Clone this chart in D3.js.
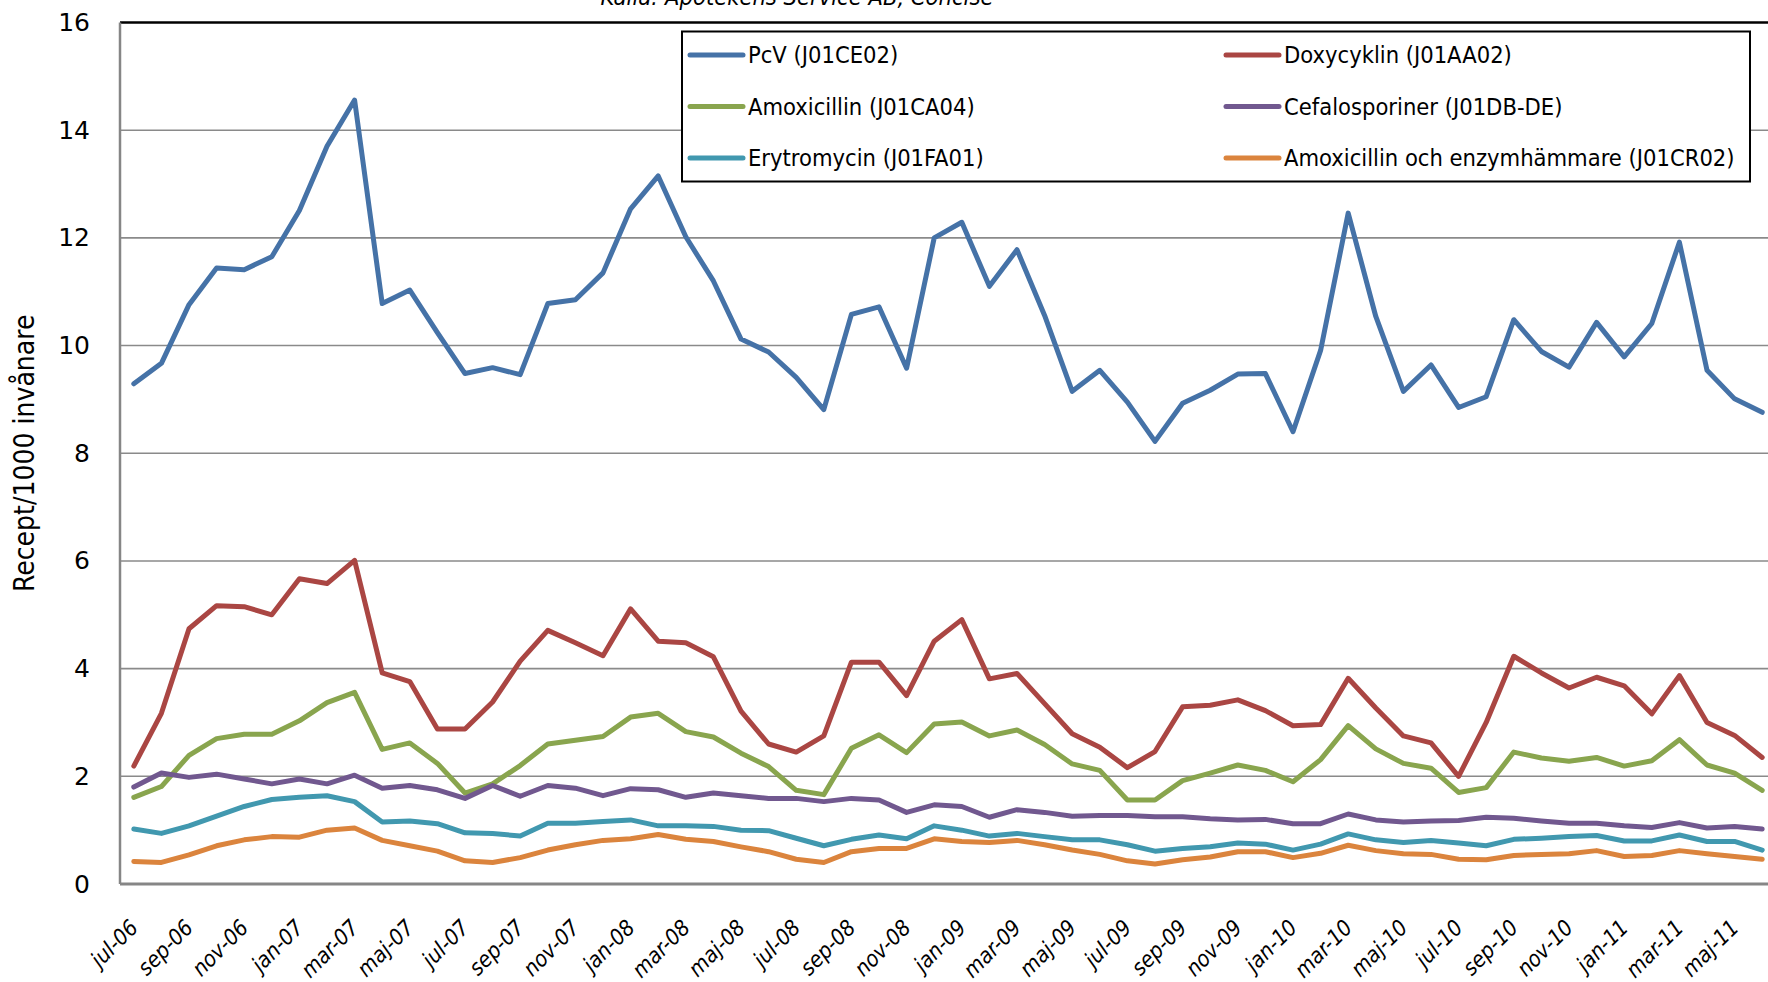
<!DOCTYPE html>
<html>
<head>
<meta charset="utf-8">
<script src="https://cdnjs.cloudflare.com/ajax/libs/d3/7.8.5/d3.min.js"></script>
<style>
  body { margin: 0; background: #fff; overflow: hidden; }
  svg { display: block; }
  .cond { font-family: "Liberation Sans Narrow", "DejaVu Sans Condensed", "Liberation Sans", sans-serif; }
</style>
</head>
<body>
<div id="chart"></div>
<script>
// months on the category axis (every other one is labelled)
var months = ["jul-06","aug-06","sep-06","okt-06","nov-06","dec-06",
  "jan-07","feb-07","mar-07","apr-07","maj-07","jun-07","jul-07","aug-07","sep-07","okt-07","nov-07","dec-07",
  "jan-08","feb-08","mar-08","apr-08","maj-08","jun-08","jul-08","aug-08","sep-08","okt-08","nov-08","dec-08",
  "jan-09","feb-09","mar-09","apr-09","maj-09","jun-09","jul-09","aug-09","sep-09","okt-09","nov-09","dec-09",
  "jan-10","feb-10","mar-10","apr-10","maj-10","jun-10","jul-10","aug-10","sep-10","okt-10","nov-10","dec-10",
  "jan-11","feb-11","mar-11","apr-11","maj-11","jun-11"];

var pcv = [9.29, 9.67, 10.76, 11.44, 11.41, 11.65, 12.51, 13.70, 14.56, 10.78,
  11.03, 10.24, 9.48, 9.59, 9.46, 10.78, 10.85, 11.35, 12.54, 13.15,
  12.02, 11.20, 10.12, 9.88, 9.41, 8.81, 10.58, 10.72, 9.58, 12.00,
  12.29, 11.10, 11.78, 10.56, 9.15, 9.54, 8.95, 8.22, 8.93, 9.17,
  9.47, 9.48, 8.40, 9.91, 12.46, 10.54, 9.15, 9.64, 8.85, 9.05,
  10.48, 9.89, 9.60, 10.43, 9.79, 10.41, 11.92, 9.54, 9.01, 8.76];

var doxy = [2.19, 3.17, 4.74, 5.17, 5.15, 5.00, 5.67, 5.58, 6.01, 3.92, 3.76, 2.88, 2.88, 3.38, 4.14,
  4.71, 4.48, 4.24, 5.11, 4.51, 4.48, 4.22, 3.21, 2.60, 2.45, 2.75, 4.12, 4.12, 3.50, 4.51,
  4.91, 3.81, 3.91, 3.35, 2.79, 2.54, 2.16, 2.46, 3.29, 3.32, 3.42, 3.22, 2.94, 2.96, 3.82,
  3.27, 2.75, 2.62, 2.00, 3.00, 4.23, 3.92, 3.64, 3.84, 3.68, 3.16, 3.87, 3.00, 2.76, 2.35];

var amox = [1.61, 1.81, 2.39, 2.70, 2.78, 2.78, 3.03, 3.37, 3.56, 2.50, 2.62, 2.24, 1.69, 1.86, 2.20,
  2.60, 2.67, 2.74, 3.10, 3.17, 2.83, 2.73, 2.43, 2.18, 1.74, 1.66, 2.52, 2.77, 2.44, 2.97,
  3.01, 2.75, 2.86, 2.59, 2.23, 2.11, 1.56, 1.56, 1.92, 2.06, 2.21, 2.11, 1.90, 2.31, 2.94,
  2.51, 2.24, 2.15, 1.70, 1.79, 2.45, 2.34, 2.28, 2.35, 2.19, 2.29, 2.68, 2.21, 2.06, 1.74];

var cefa = [1.80, 2.06, 1.98, 2.04, 1.95, 1.86, 1.95, 1.86, 2.02, 1.78, 1.83, 1.75, 1.59, 1.83, 1.63,
  1.83, 1.78, 1.64, 1.77, 1.75, 1.61, 1.69, 1.64, 1.59, 1.59, 1.53, 1.59, 1.56, 1.33, 1.47,
  1.44, 1.24, 1.38, 1.33, 1.26, 1.27, 1.27, 1.25, 1.25, 1.21, 1.19, 1.20, 1.12, 1.12, 1.30,
  1.19, 1.15, 1.17, 1.18, 1.24, 1.22, 1.17, 1.13, 1.13, 1.08, 1.05, 1.14, 1.04, 1.07, 1.02];

var eryt = [1.02, 0.94, 1.08, 1.26, 1.44, 1.57, 1.61, 1.64, 1.53, 1.15, 1.17, 1.12, 0.95, 0.94, 0.89,
  1.13, 1.13, 1.16, 1.19, 1.08, 1.08, 1.07, 1.00, 0.99, 0.85, 0.71, 0.83, 0.91, 0.84, 1.08,
  1.00, 0.89, 0.94, 0.88, 0.82, 0.82, 0.73, 0.61, 0.66, 0.69, 0.76, 0.74, 0.63, 0.74, 0.93,
  0.82, 0.77, 0.81, 0.76, 0.71, 0.83, 0.85, 0.88, 0.90, 0.80, 0.80, 0.91, 0.79, 0.79, 0.63];

var amoxEnz = [0.42, 0.40, 0.54, 0.71, 0.82, 0.88, 0.87, 1.00, 1.04, 0.81, 0.71, 0.61, 0.43, 0.40, 0.49,
  0.63, 0.73, 0.81, 0.84, 0.92, 0.83, 0.79, 0.69, 0.60, 0.46, 0.40, 0.60, 0.66, 0.66, 0.84,
  0.79, 0.77, 0.81, 0.73, 0.63, 0.55, 0.43, 0.37, 0.45, 0.50, 0.60, 0.60, 0.49, 0.57, 0.72,
  0.62, 0.56, 0.55, 0.46, 0.45, 0.53, 0.55, 0.56, 0.62, 0.51, 0.53, 0.62, 0.56, 0.51, 0.46];

var seriesNames = ["PcV (J01CE02)", "Doxycyklin (J01AA02)", "Amoxicillin (J01CA04)",
  "Cefalosporiner (J01DB-DE)", "Erytromycin (J01FA01)", "Amoxicillin och enzymhämmare (J01CR02)"];
var yTicks = [0, 2, 4, 6, 8, 10, 12, 14, 16];

var colors = ["#4572A7", "#AA4643", "#89A54E", "#71588F", "#4198AF", "#DB843D"];
var series = [pcv, doxy, amox, cefa, eryt, amoxEnz].map(function(v, i) {
  return { name: seriesNames[i], color: colors[i], values: v };
});

// Set Margins (plot runs past the right edge of the picture, like the original crop)
var W = 1768, H = 982;
var plotLeft = 120, plotTop = 22.5, plotBottom = 884;
var plotRight = plotLeft + 27.6 * months.length;

var svg = d3.select("#chart").append("svg")
    .attr("width", W)
    .attr("height", H);

var x = d3.scalePoint().domain(months).range([plotLeft, plotRight]).padding(0.5);
var y = d3.scaleLinear().domain([0, 16]).range([plotBottom, plotTop]);

// gridlines
svg.append("g")
  .selectAll("line")
  .data(yTicks.filter(function(d) { return d > 0 && d < 16; }))
  .enter().append("line")
    .attr("x1", plotLeft).attr("x2", plotRight)
    .attr("y1", function(d) { return y(d); })
    .attr("y2", function(d) { return y(d); })
    .attr("stroke", "#8a8a8a")
    .attr("stroke-width", 1.6);

// frame: black top, grey left and bottom
svg.append("line")
  .attr("x1", plotLeft).attr("x2", plotRight).attr("y1", y(16)).attr("y2", y(16))
  .attr("stroke", "#000").attr("stroke-width", 2.5);
svg.append("line")
  .attr("x1", plotLeft).attr("x2", plotLeft).attr("y1", y(16)).attr("y2", y(0))
  .attr("stroke", "#868686").attr("stroke-width", 2.5);

// y axis labels
var yAxis = svg.append("g")
  .attr("transform", "translate(" + plotLeft + ",0)")
  .call(d3.axisLeft(y).tickValues(yTicks).tickSize(0).tickPadding(30).tickFormat(d3.format("d")));
yAxis.select(".domain").remove();
yAxis.selectAll("text")
  .attr("font-family", "'DejaVu Sans', sans-serif")
  .attr("font-size", 25)
  .attr("fill", "#000");

svg.append("text")
  .attr("class", "cond")
  .attr("transform", "translate(34," + ((plotTop + plotBottom) / 2) + ") rotate(-90)")
  .attr("text-anchor", "middle")
  .attr("font-size", 28)
  .text("Recept/1000 invånare");

// x axis labels, every other month
var xAxis = svg.append("g")
  .attr("transform", "translate(0," + plotBottom + ")")
  .call(d3.axisBottom(x).tickValues(months.filter(function(d, i) { return i % 2 === 0; })).tickSize(0));
xAxis.select(".domain")
  .attr("d", "M" + plotLeft + ",0H" + plotRight)
  .attr("stroke", "#868686").attr("stroke-width", 3);
xAxis.selectAll("text")
  .attr("class", "cond")
  .attr("font-family", null)
  .attr("font-size", 22)
  .attr("font-style", "italic")
  .attr("fill", "#000")
  .attr("text-anchor", "end")
  .attr("dy", null)
  .attr("y", 0)
  .attr("transform", "translate(5,45) rotate(-45)");

// lines
var line = d3.line()
  .x(function(d, i) { return x(months[i]); })
  .y(function(d) { return y(d); });

svg.append("g")
  .selectAll("path")
  .data(series)
  .enter().append("path")
    .attr("d", function(d) { return line(d.values); })
    .attr("fill", "none")
    .attr("stroke", function(d) { return d.color; })
    .attr("stroke-width", 5)
    .attr("stroke-linejoin", "round")
    .attr("stroke-linecap", "round");

// legend
var legend = svg.append("g");
legend.append("rect")
  .attr("x", 682).attr("y", 31.5)
  .attr("width", 1068).attr("height", 150)
  .attr("fill", "#fff").attr("stroke", "#000").attr("stroke-width", 2);

var item = legend.selectAll("g.item")
  .data(series)
  .enter().append("g")
    .attr("class", "item")
    .attr("transform", function(d, i) {
      return "translate(" + (i % 2 === 0 ? 690 : 1226) + "," + (55 + Math.floor(i / 2) * 51.5) + ")";
    });
item.append("line")
  .attr("x1", 0).attr("x2", 53)
  .attr("stroke", function(d) { return d.color; })
  .attr("stroke-width", 5)
  .attr("stroke-linecap", "round");
item.append("text")
  .attr("class", "cond")
  .attr("x", 58)
  .attr("dy", "0.35em")
  .attr("font-size", 23.5)
  .text(function(d) { return d.name; });

// source line, mostly cut off at the top
svg.append("text")
  .attr("class", "cond")
  .attr("x", 797).attr("y", 5)
  .attr("text-anchor", "middle")
  .attr("font-size", 23.5)
  .attr("font-style", "italic")
  .text("Källa: Apotekens Service AB, Concise");
</script>
</body>
</html>
